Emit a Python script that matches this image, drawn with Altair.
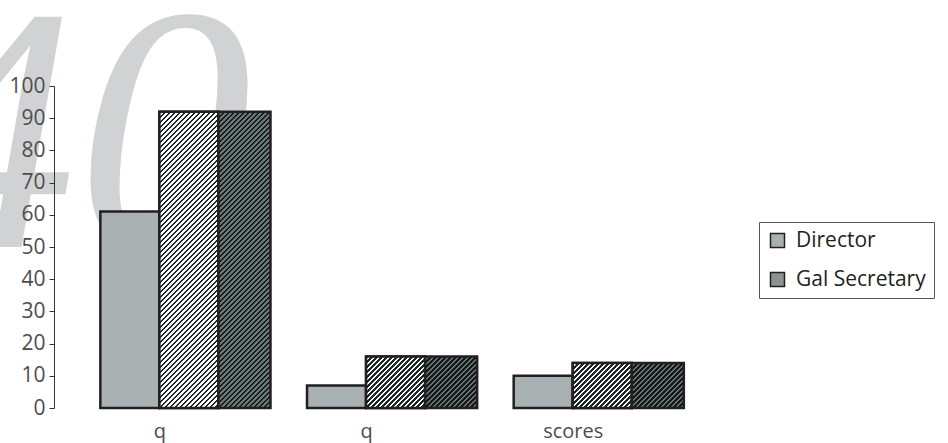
import json
import altair as alt
import pandas as pd

# ---- data ----
groups = ["q", "q", "scores"]
director = [61, 7, 10]
gal_secretary = [92, 16, 14]
series3 = [92, 16, 14]
series_names = ["Director", "Gal Secretary", "Series 3"]
legend_names = ["Director", "Gal Secretary"]
y_ticks = list(range(0, 101, 10))

# ---- layout / style constants ----
W, H = 620, 322
X_DOMAIN = [-0.51, 2.49]
PX_PER_UNIT = W / (X_DOMAIN[1] - X_DOMAIN[0])
BAR_SPANS = {"Director": (-0.2857, 0.0),
             "Gal Secretary": (0.0, 0.2857),
             "Series 3": (0.2857, 0.5375)}
DIRECTOR_FILL = "#a8b0b2"
GAL_COLORS = ("#1c2626", "#ffffff")
S3_COLORS = ("#141a1a", "#6b7676")
STROKE = "#231f20"
FONT = "Open Sans"

rows = []
for i, g in enumerate(groups):
    for name, vals in zip(series_names, [director, gal_secretary, series3]):
        a, b = BAR_SPANS[name]
        rows.append({"gi": i, "group": g, "series": name, "value": vals[i],
                     "x0": i + a, "x1": i + b})
df = pd.DataFrame(rows)


def hatch(w, h, dark, light, period=5.0):
    """Diagonal '/' stripes as a linear gradient with hard stops (SVG bbox units)."""
    k = (w + h) / (w * w + h * h)
    n = (w + h) / period
    stops = []
    j = 0
    while j / n < 1:
        a, m, b = j / n, min((j + 0.5) / n, 1), min((j + 1) / n, 1)
        stops += [(a, dark), (m, dark), (m, light), (b, light)]
        j += 1
    return {"gradient": "linear", "x1": 0, "y1": 0,
            "x2": round(k * w, 6), "y2": round(k * h, 6),
            "stops": [{"offset": round(o, 6), "color": c} for o, c in stops]}


x_enc = alt.X("x0:Q",
              scale=alt.Scale(domain=X_DOMAIN, nice=False, zero=False),
              axis=alt.Axis(values=[0, 1, 2],
                            labelExpr=json.dumps(groups) + "[datum.value]",
                            domain=False, ticks=False, tickSize=0, grid=False,
                            labelBaseline="alphabetic", labelPadding=29,
                            labelFontSize=20, labelColor="#4d4d4d",
                            labelFont=FONT, title=None, zindex=1))
x2_enc = alt.X2("x1:Q")
y_enc = alt.Y("value:Q",
              scale=alt.Scale(domain=[0, 100], nice=False),
              axis=alt.Axis(values=y_ticks, grid=False, domainColor="#333333",
                            tickColor="#333333", tickSize=5, labelPadding=4,
                            labelFontSize=21, labelColor="#4d4d4d",
                            labelFont=FONT, title=None, zindex=1))
y2_enc = alt.datum(0)

watermark = alt.Chart(pd.DataFrame({"t": ["40"]})).mark_text(
    font="Liberation Serif", fontStyle="italic", fontSize=350,
    color="#d1d2d4", align="left", baseline="alphabetic"
).encode(text="t:N", x=alt.value(-152), y=alt.value(161))

base = alt.Chart(df[df.series.isin(legend_names)]).mark_bar(
    stroke=STROKE, strokeWidth=2.5
).encode(
    x=x_enc, x2=x2_enc, y=y_enc, y2=y2_enc,
    color=alt.Color("series:N",
                    scale=alt.Scale(domain=legend_names,
                                    range=[DIRECTOR_FILL, "#8c9393"]),
                    legend=alt.Legend(title=None, orient="none",
                                      legendX=705, legendY=136,
                                      strokeColor="#555555", fillColor="white",
                                      padding=8, rowPadding=17,
                                      symbolType="square", symbolSize=196,
                                      symbolStrokeColor=STROKE,
                                      symbolStrokeWidth=1.5,
                                      labelFont=FONT, labelFontSize=21,
                                      labelColor=STROKE, labelOffset=8,
                                      labelLimit=400,
                                      labelExpr="datum.label + '        '"))
)

layers = [watermark, base]
for name, cols in (("Gal Secretary", GAL_COLORS), ("Series 3", S3_COLORS)):
    for i in range(len(groups)):
        r = df[(df.series == name) & (df.gi == i)]
        w = (r.x1.iloc[0] - r.x0.iloc[0]) * PX_PER_UNIT
        h = r.value.iloc[0] / 100 * H
        layers.append(
            alt.Chart(r).mark_bar(fill=hatch(w, h, *cols), stroke=STROKE,
                                  strokeWidth=2.5)
            .encode(x=x_enc, x2=x2_enc, y=y_enc, y2=y2_enc)
        )

chart = alt.layer(*layers).properties(
    width=W, height=H,
    padding={"left": 54, "top": 86, "right": 948 - 54 - W, "bottom": 443 - 86 - H},
    autosize=alt.AutoSizeParams(type="none"),
).configure(font=FONT).configure_view(strokeWidth=0, stroke=None)

chart.save("out.html", embed_options={"renderer": "svg", "actions": False})
